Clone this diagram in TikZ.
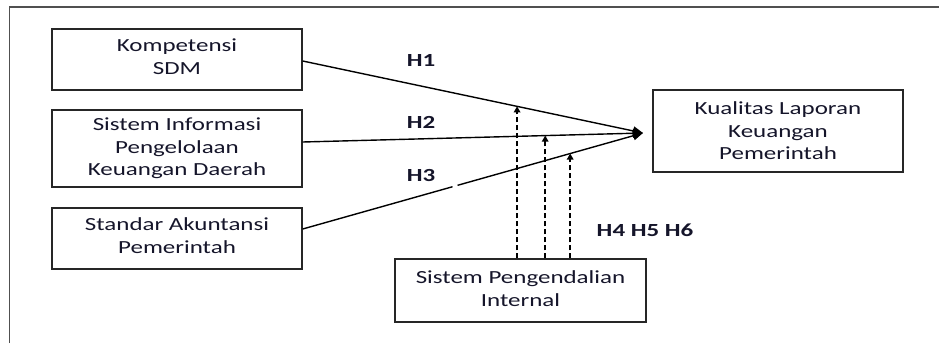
\documentclass[tikz,border=0pt]{standalone}
\usepackage{fontspec}
\setmainfont{Carlito}[FakeStretch=1.35]
\usetikzlibrary{arrows.meta,calc}
\definecolor{ink}{HTML}{15152A}
\definecolor{frame}{HTML}{505050}
\tikzset{
  box/.style={draw=black!85, line width=1.4pt, minimum width=250pt, inner sep=0pt},
  txt/.style={align=center, text=ink, inner sep=0pt, font=\fontsize{18.5}{22.5}\selectfont},
  hlabel/.style={text=ink, font=\fontsize{18.5}{22}\selectfont\bfseries, inner sep=0pt},
  effect/.style={line width=1.4pt, -{Triangle[length=10pt,width=9pt]}},
  moder/.style={line width=1.8pt, dash pattern=on 5pt off 3pt, -{Triangle[length=6pt,width=6.5pt]}},
}
\begin{document}
\begin{tikzpicture}[x=1pt,y=-1pt]
  \useasboundingbox (0,0) rectangle (939,343);
  % outer frame, open at the right and bottom
  \draw[frame, line width=1.5pt] (9.5,343) -- (9.5,7) -- (939,7);

  % independent variables
  \node[box, minimum height=61pt, label={[txt, yshift=3pt]center:{Kompetensi\\SDM}}] (sdm) at (177,59.5) {};
  \node[box, minimum height=77pt, label={[txt]center:{Sistem Informasi\\Pengelolaan\\Keuangan Daerah}}] (sipkd) at (177,148.5) {};
  \node[box, minimum height=61pt, label={[txt, yshift=3pt]center:{Standar Akuntansi\\Pemerintah}}] (sap) at (177,238.5) {};
  % dependent variable
  \node[box, minimum height=82pt, label={[txt]center:{Kualitas Laporan\\Keuangan\\Pemerintah}}] (klp) at (778,131) {};
  % moderating variable
  \node[box, minimum width=251pt, minimum height=63pt, label={[txt, yshift=2pt]center:{Sistem Pengendalian\\Internal}}] (spi) at (520.5,290.5) {};

  % meeting point of the three paths
  \coordinate (tip) at (643,133);
  \coordinate (s1) at ([yshift=-1.5pt]sdm.east);
  \coordinate (s2) at ([yshift=6.5pt]sipkd.east);
  \coordinate (s3) at ([yshift=9.5pt]sap.east);

  \draw[effect] (s1) -- (tip);
  \draw[effect] (s2) -- (tip);
  \draw[effect, dash pattern=on 155.7pt off 5.2pt on 400pt] (s3) -- (tip);

  % moderation arrows onto each path
  \coordinate (m1) at ($(s1)!0.630!(tip)$);
  \coordinate (m2) at ($(s2)!0.7126!(tip)$);
  \coordinate (m3) at ($(s3)!0.786!(tip)$);
  \draw[moder] (spi.north -| m1) -- (m1);
  \draw[moder] (spi.north -| m2) -- (m2);
  \draw[moder] (spi.north -| m3) -- (m3);

  % hypothesis labels
  \node[hlabel] (h1) at (421,60) {H1};
  \node[hlabel] (h2) at (421,122) {H2};
  \node[hlabel] (h3) at (421,175) {H3};
  \node[hlabel] (h456) at (645,230) {H4 H5 H6};
\end{tikzpicture}
\end{document}
